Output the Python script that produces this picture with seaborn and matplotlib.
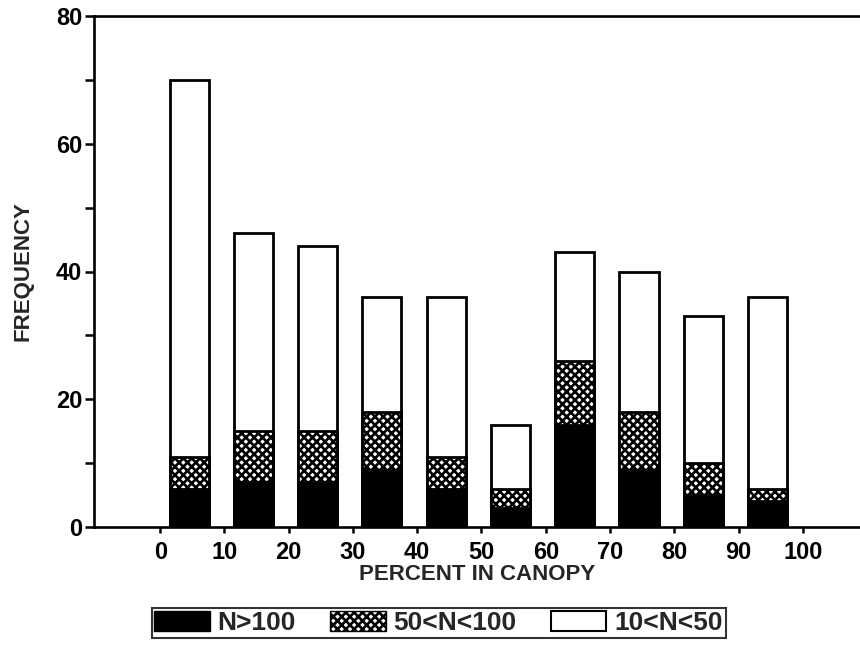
import numpy as np
import pandas as pd
import seaborn as sns
import matplotlib.pyplot as plt
from matplotlib.patches import Patch
from matplotlib.ticker import MultipleLocator

# lower edge of each 10% canopy class
bins = [0, 10, 20, 30, 40, 50, 60, 70, 80, 90]
# frequencies per size class, stacked from the bottom
n_high = [6, 7, 7, 9, 6, 3, 16, 9, 5, 4]      # N>100
n_mid = [5, 8, 8, 9, 5, 3, 10, 9, 5, 2]       # 50<N<100
n_low = [59, 31, 29, 18, 25, 10, 17, 22, 23, 30]  # 10<N<50

labels = ["N>100", "50<N<100", "10<N<50"]

sns.set_style("white")
plt.rcParams["font.family"] = ["Liberation Sans", "DejaVu Sans"]
plt.rcParams["font.weight"] = "bold"
plt.rcParams["hatch.color"] = "black"
plt.rcParams["hatch.linewidth"] = 1.9

df = pd.DataFrame({
    "pos": np.array(bins) + 4.5,
    "high": np.array(n_high),
    "mid_top": np.array(n_high) + np.array(n_mid),
    "total": np.array(n_high) + np.array(n_mid) + np.array(n_low),
})

fig = plt.figure(figsize=(8.6, 6.55), dpi=100)
ax = fig.add_axes([94 / 860, 1 - 527 / 655, 1 - 94 / 860, (527 - 16) / 655])

kw = dict(native_scale=True, width=0.61, errorbar=None, edgecolor="black", linewidth=2, ax=ax)
sns.barplot(data=df, x="pos", y="total", color="white", **kw)
sns.barplot(data=df, x="pos", y="mid_top", color="white", hatch="xxxx", **kw)
sns.barplot(data=df, x="pos", y="high", color="black", **kw)

ax.set_xlim(-10.3, 108.9)
ax.set_ylim(0, 80)
ax.set_xticks(range(0, 101, 10))
ax.set_yticks(range(0, 81, 20))
ax.yaxis.set_minor_locator(MultipleLocator(10))

for s in ["left", "bottom", "top"]:
    ax.spines[s].set_linewidth(1.9)
    ax.spines[s].set_color("black")
ax.spines["right"].set_visible(False)

ax.tick_params(axis="both", which="both", direction="out", width=1.8, color="black",
               labelsize=17, labelcolor="black")
ax.tick_params(axis="y", which="both", length=6.5, left=True, pad=2)
ax.tick_params(axis="x", which="both", length=4, bottom=True, pad=6)

ax.set_xlabel("PERCENT IN CANOPY", fontsize=16, fontweight="bold", labelpad=0)
ax.set_ylabel("FREQUENCY", fontsize=16, fontweight="bold", labelpad=16)

handles = [
    Patch(facecolor="black", edgecolor="black"),
    Patch(facecolor="white", edgecolor="black", hatch="xxxx"),
    Patch(facecolor="white", edgecolor="black", linewidth=1.5),
]
leg = fig.legend(handles=handles, labels=labels, loc="center", ncol=3,
                 bbox_to_anchor=(0.51, 1 - 623 / 655), fontsize=19, frameon=True,
                 fancybox=False, edgecolor="black", handlelength=2.1, handleheight=0.8,
                 columnspacing=1.3, handletextpad=0.3, borderpad=0.1, borderaxespad=0)
leg.get_frame().set_linewidth(1.5)

fig.savefig("out.png", dpi=100)
